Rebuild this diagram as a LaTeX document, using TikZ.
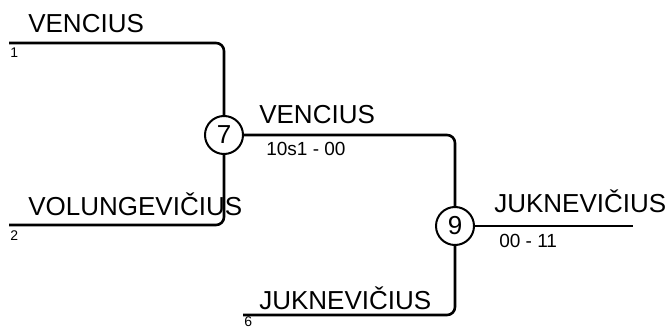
\documentclass[tikz,border=0pt]{standalone}
\usepackage{fontspec}
\setmainfont{Liberation Sans}
\usetikzlibrary{positioning}

\begin{document}
\begin{tikzpicture}[x=1pt,y=-1pt,
 line width=2.6pt,rounded corners=8pt,
 match node/.style={circle,draw,line width=2pt,minimum size=38pt,inner sep=0pt,font=\fontsize{26}{26}\selectfont},
 player/.style={anchor=base west,inner sep=0pt,font=\fontsize{26}{26}\selectfont},
 score/.style={anchor=base west,inner sep=0pt,font=\fontsize{19}{19}\selectfont},
 seed/.style={anchor=base west,inner sep=0pt,font=\fontsize{14}{14}\selectfont}]

  \useasboundingbox (0,0) rectangle (672,329);

  \node[match node] (7) at (224,135) {7};
  \node[match node] (9) at (455,226) {9};

  \coordinate (s1) at (9,43);
  \coordinate (s2) at (9,225);
  \coordinate (s6) at (243,315);
  \coordinate (win) at (633,226);

  \node[player] (p1) at (27,33) {VENCIUS};
  \node[seed] (n1) at (9,58) {1};
  \node[player] (p2) at (27,215) {VOLUNGEVIČIUS};
  \node[seed] (n2) at (9,240) {2};
  \node[player] (p7) at (258,123) {VENCIUS};
  \node[score] (r7) at (265,155) {10s1 - 00};
  \node[player] (p6) at (258,309) {JUKNEVIČIUS};
  \node[seed] (n6) at (243,326) {6};
  \node[player] (p9) at (493,212) {JUKNEVIČIUS};
  \node[score] (r9) at (498,247) {00 - 11};

  \foreach \s/\t in {s1/7, s2/7, 7/9, s6/9} {
   \draw (\s) -| (\t);}
  \draw (9) -- (win);

\end{tikzpicture}
\end{document}
